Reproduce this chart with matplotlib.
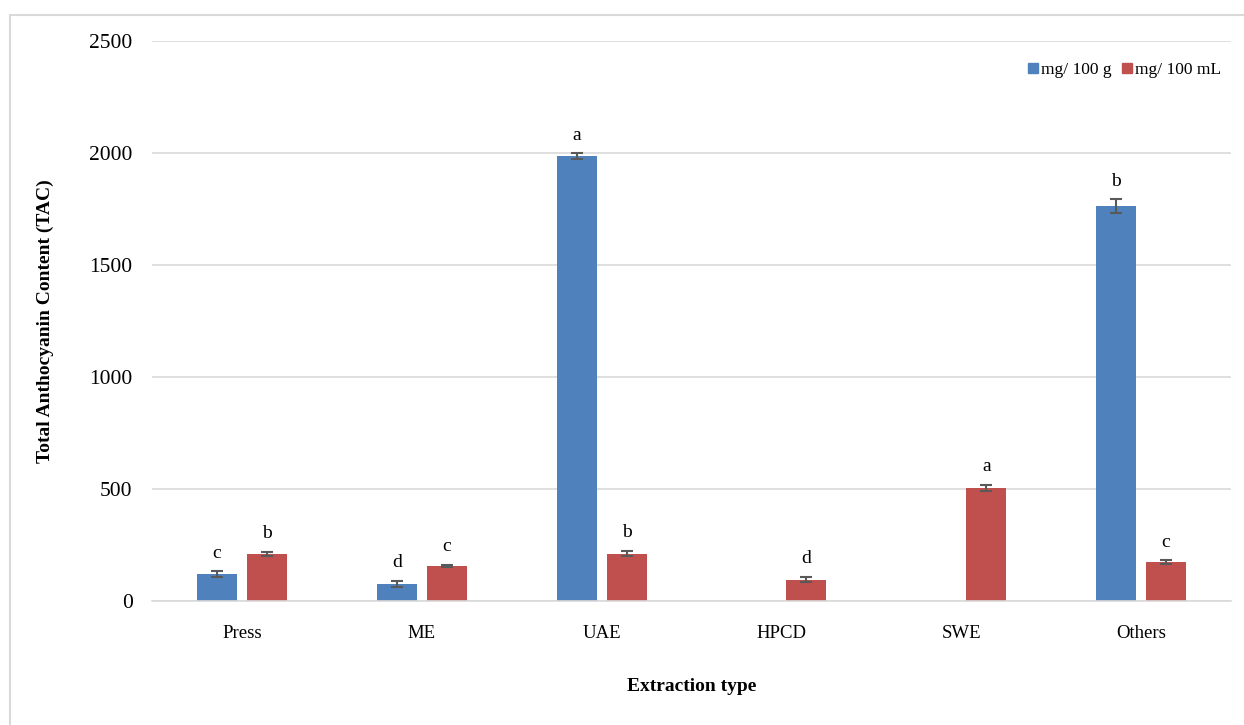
import matplotlib
matplotlib.use('Agg')
import matplotlib.pyplot as plt
import numpy as np
from matplotlib.patches import Patch, Rectangle

# Total anthocyanin content by extraction type
categories = ['Press', 'ME', 'UAE', 'HPCD', 'SWE', 'Others']
per_100g = [120, 76, 1987, np.nan, np.nan, 1763]
per_100g_err = [12, 15, 12, 0, 0, 30]
per_100g_letters = ['c', 'd', 'a', '', '', 'b']
per_100ml = [210, 156, 212, 95, 505, 174]
per_100ml_err = [8, 4, 12, 12, 12, 8]
per_100ml_letters = ['b', 'c', 'b', 'd', 'a', 'c']
series_labels = ['mg/ 100 g', 'mg/ 100 mL']
yticks = [0, 500, 1000, 1500, 2000, 2500]

blue = '#4f81bd'
red = '#c0504d'
grid_col = '#d9d9d9'
err_col = '#595959'

plt.rcParams['font.family'] = ['Liberation Serif', 'DejaVu Serif']

fig = plt.figure(figsize=(12.44, 7.25), dpi=100)
ax = fig.add_axes([0.1222, 0.171, 0.8673, 0.7724])

x = np.arange(len(categories))
width = 0.222
offset = 0.139

def draw_series(xs, vals, errs, letters, color):
    ax.bar(xs, vals, width, color=color, zorder=2)
    for xi, v, e, lab in zip(xs, vals, errs, letters):
        if np.isnan(v):
            continue
        ax.errorbar(xi, v, yerr=e, fmt='none', ecolor=err_col,
                    elinewidth=1.5, capsize=4.3, capthick=1.5, zorder=3)
        if lab:
            ax.annotate(lab, (xi, v + e), xytext=(0, 7), textcoords='offset points',
                        ha='center', va='bottom', fontsize=14)

draw_series(x - offset, per_100g, per_100g_err, per_100g_letters, blue)
draw_series(x + offset, per_100ml, per_100ml_err, per_100ml_letters, red)

ax.set_xlim(-0.5, len(categories) - 0.5)
ax.set_ylim(0, 2500)
ax.set_yticks(yticks)
ax.set_xticks(x)
ax.set_xticklabels(categories)
ax.tick_params(axis='x', length=0, labelsize=13.5, pad=17)
ax.tick_params(axis='y', length=0, labelsize=15.5, pad=14)
ax.yaxis.grid(True, color=grid_col, linewidth=1.2, zorder=0)
ax.set_axisbelow(True)
for side in ['top', 'right', 'left']:
    ax.spines[side].set_visible(False)
ax.spines['bottom'].set_color(grid_col)
ax.spines['bottom'].set_linewidth(1.2)

ax.set_ylabel('Total Anthocyanin Content (TAC)', fontsize=14, fontweight='bold', labelpad=25)
ax.set_xlabel('Extraction type', fontsize=14, fontweight='bold', labelpad=26)

handles = [Patch(color=blue, label=series_labels[0]),
           Patch(color=red, label=series_labels[1])]
fig.legend(handles=handles, loc='center', bbox_to_anchor=(0.904, 0.903), ncol=2,
           frameon=False, fontsize=12.5, handlelength=0.55, handleheight=0.55,
           handletextpad=0.2, columnspacing=0.6)

# light outer frame (only top and left edges fall inside the canvas)
fig.patches.append(Rectangle((10 / 1244, -0.1), 1.2, 1 - 15 / 725 + 0.1,
                             transform=fig.transFigure, fill=False,
                             edgecolor=grid_col, linewidth=1.5))

fig.savefig('out.png', dpi=100)
